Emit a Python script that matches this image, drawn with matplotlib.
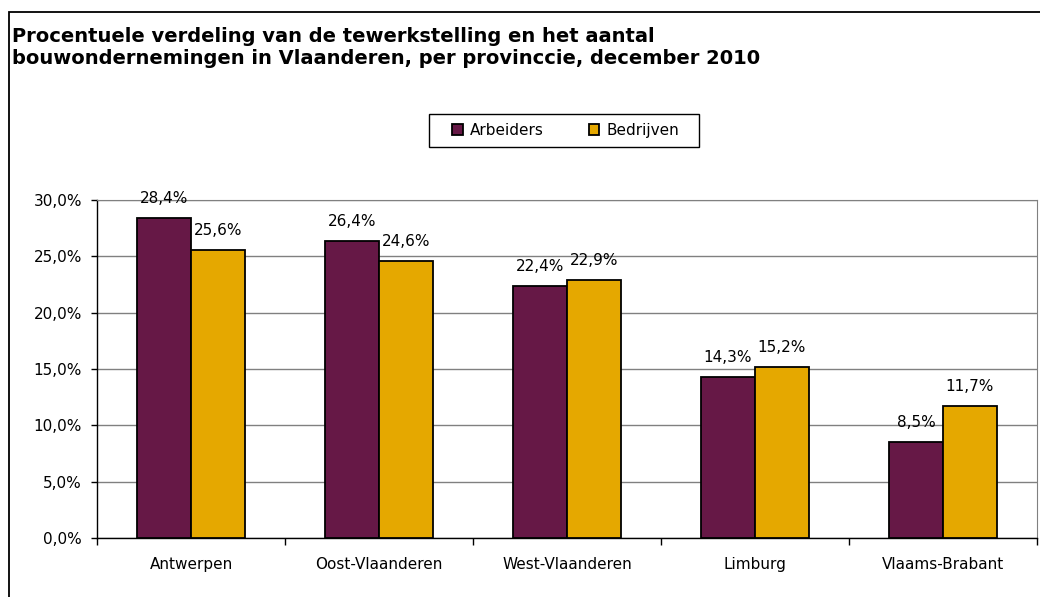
import numpy as np
import matplotlib.pyplot as plt
from matplotlib.patches import Rectangle

plt.rcParams['font.family'] = ['DejaVu Sans']

# data
provincies = ["Antwerpen", "Oost-Vlaanderen", "West-Vlaanderen", "Limburg", "Vlaams-Brabant"]
arbeiders = [28.4, 26.4, 22.4, 14.3, 8.5]
bedrijven = [25.6, 24.6, 22.9, 15.2, 11.7]
yticks = [0, 5, 10, 15, 20, 25, 30]
titel1 = "Procentuele verdeling van de tewerkstelling en het aantal"
titel2 = "bouwondernemingen in Vlaanderen, per provinccie, december 2010"

paars = "#661846"
goud = "#E5A800"

W, H = 1040, 597
fig = plt.figure(figsize=(W/100, H/100), dpi=100)

# outer chart frame
fig.patches.append(Rectangle((9/W, -0.1), 1.2, 1.1 - 12/H, transform=fig.transFigure,
                             fill=False, edgecolor="black", linewidth=1.3))

fig.text(12/W, 1 - 42/H, titel1, fontsize=14, fontweight="bold", va="baseline", ha="left")
fig.text(12/W, 1 - 64/H, titel2, fontsize=14, fontweight="bold", va="baseline", ha="left")

ax = fig.add_axes([97/W, 1 - 538/H, 940/W, 338/H])

x = np.arange(len(provincies))
w = 0.287
b1 = ax.bar(x - w/2, arbeiders, w, color=paars, edgecolor="black", linewidth=1.3, label="Arbeiders", zorder=3)
b2 = ax.bar(x + w/2, bedrijven, w, color=goud, edgecolor="black", linewidth=1.3, label="Bedrijven", zorder=3)

for bars, vals in [(b1, arbeiders), (b2, bedrijven)]:
    for r, v in zip(bars, vals):
        ax.annotate(("%.1f%%" % v).replace(".", ","), (r.get_x() + r.get_width()/2, v),
                    xytext=(0, 8.5), textcoords="offset points", ha="center", va="bottom", fontsize=11)

ax.set_xlim(-0.5, len(provincies) - 0.5)
ax.set_ylim(0, 30)
ax.set_yticks(yticks)
ax.set_yticklabels([("%.1f%%" % t).replace(".", ",") for t in yticks], fontsize=11)
ax.set_xticks(x)
ax.set_xticklabels(provincies, fontsize=11)
ax.set_xticks(np.arange(len(provincies) + 1) - 0.5, minor=True)
ax.tick_params(axis="x", which="major", length=0, pad=14)
ax.tick_params(axis="x", which="minor", length=5, width=1, direction="out")
ax.tick_params(axis="y", length=4.3, width=1, direction="out", pad=6.5)

ax.yaxis.grid(True, color="#808080", linewidth=1, zorder=0)
for s in ["top", "right"]:
    ax.spines[s].set_color("#808080")
for s in ["left", "bottom"]:
    ax.spines[s].set_color("black")
    ax.spines[s].set_linewidth(1)

# legend with its own box
fig.patches.append(Rectangle((429/W, 1 - 147/H), 270/W, 33/H, transform=fig.transFigure,
                             fill=False, edgecolor="black", linewidth=1))
fig.legend(handles=[b1, b2], loc="center", bbox_to_anchor=(565.5/W, 1 - 130.5/H), ncol=2,
           fontsize=11, frameon=False, handlelength=0.7, handleheight=0.7,
           handletextpad=0.45, columnspacing=2.95, borderpad=0)

fig.savefig("out.png", dpi=100)
